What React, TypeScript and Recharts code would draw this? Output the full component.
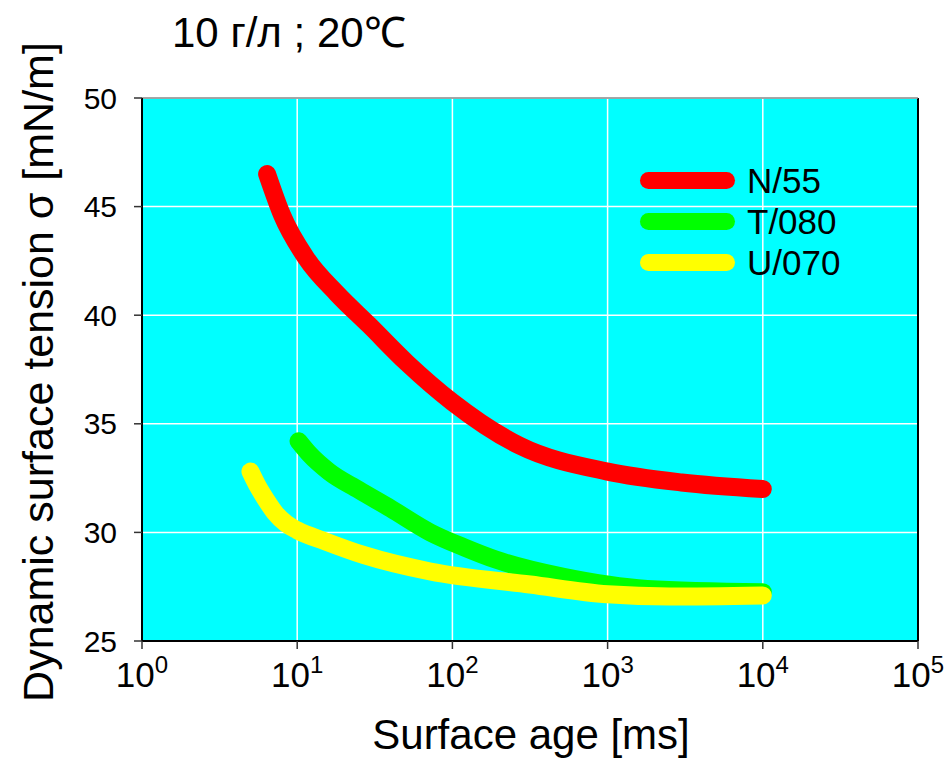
import React from "react";
import { LineChart, Line, XAxis, YAxis, CartesianGrid, ReferenceLine } from "recharts";

// surface age in ms, dynamic surface tension in mN/m
const n55Age = [6.4, 8, 11.5, 18, 29, 51, 100, 270, 1000, 3000, 10000];
const n55Sigma = [46.5, 44.6, 42.6, 41.0, 39.55, 37.8, 36.0, 34.0, 32.8, 32.3, 32.0];

const t080Age = [10.2, 12, 16, 25, 40, 72, 120, 190, 520, 1800, 10000];
const t080Sigma = [34.2, 33.6, 32.8, 31.95, 31.1, 30.0, 29.3, 28.75, 27.95, 27.4, 27.25];

const u070Age = [5.0, 5.6, 6.3, 7.2, 8.5, 10, 15, 27, 72, 316, 1000, 2500, 10000];
const u070Sigma = [32.8, 32.1, 31.5, 30.9, 30.4, 30.1, 29.6, 28.95, 28.2, 27.6, 27.15, 27.05, 27.1];

const xTicks = [1, 10, 100, 1000, 10000, 100000];
const yTicks = [25, 30, 35, 40, 45, 50];

const series = [
  { name: "N/55", color: "#ff0000", age: n55Age, sigma: n55Sigma },
  { name: "T/080", color: "#00ff00", age: t080Age, sigma: t080Sigma },
  { name: "U/070", color: "#ffff00", age: u070Age, sigma: u070Sigma },
];

const font = "'Liberation Sans', Arial, sans-serif";

function PowerTick(props: any) {
  const { x, y, payload } = props;
  const exp = Math.round(Math.log10(payload.value));
  return (
    <text x={x} y={y} dy={36} textAnchor="middle" fontFamily={font} fontSize={35} fill="#000">
      10
      <tspan dy={-14} fontSize={24}>
        {exp}
      </tspan>
    </text>
  );
}

export default function App() {
  return (
    <div style={{ position: "absolute", left: 0, top: 0, width: 947, height: 772, background: "#fff", fontFamily: font }}>
      <LineChart width={947} height={772} margin={{ top: 98, right: 29, bottom: 71, left: 82 }}>
        <CartesianGrid fill="#00ffff" fillOpacity={1} stroke="#ffffff" strokeWidth={1.5} />
        <XAxis
          type="number"
          dataKey="x"
          scale="log"
          domain={[1, 100000]}
          ticks={xTicks}
          height={60}
          tickSize={8}
          tickMargin={2}
          tick={<PowerTick />}
          axisLine={{ stroke: "#000", strokeWidth: 2 }}
          tickLine={{ stroke: "#333", strokeWidth: 1.5 }}
          allowDataOverflow
        />
        <YAxis
          type="number"
          domain={[25, 50]}
          ticks={yTicks}
          width={60}
          tickSize={8}
          tickMargin={17}
          tick={{ fontFamily: font, fontSize: 30, fill: "#000" }}
          axisLine={{ stroke: "#000", strokeWidth: 2 }}
          tickLine={{ stroke: "#333", strokeWidth: 1.5 }}
        />
        <ReferenceLine x={100000} stroke="#000" strokeWidth={2} />
        <ReferenceLine y={50} stroke="#888" strokeWidth={1.5} />
        {series.map((s) => (
          <Line
            key={s.name}
            name={s.name}
            data={s.age.map((a, i) => ({ x: a, y: s.sigma[i] }))}
            dataKey="y"
            type="monotone"
            stroke={s.color}
            strokeWidth={18}
            strokeLinecap="round"
            strokeLinejoin="round"
            dot={false}
            activeDot={false}
            isAnimationActive={false}
          />
        ))}
      </LineChart>

      <div style={{ position: "absolute", left: 172, top: 9, fontSize: 42, lineHeight: 1.15, whiteSpace: "nowrap" }}>
        10 г/л ; 20℃
      </div>

      <div
        style={{
          position: "absolute",
          left: 39,
          top: 372,
          fontSize: 43,
          lineHeight: 1.15,
          whiteSpace: "nowrap",
          transform: "translate(-50%, -50%) rotate(-90deg)",
        }}
      >
        Dynamic surface tension σ [mN/m]
      </div>

      <div
        style={{
          position: "absolute",
          left: 531,
          top: 711,
          fontSize: 42,
          lineHeight: 1.15,
          whiteSpace: "nowrap",
          transform: "translateX(-50%)",
        }}
      >
        Surface age [ms]
      </div>

      <div style={{ position: "absolute", left: 640, top: 160 }}>
        {series.map((s) => (
          <div key={s.name} style={{ display: "flex", alignItems: "center", height: 41 }}>
            <div style={{ width: 95, height: 17, borderRadius: 9, background: s.color }} />
            <span style={{ marginLeft: 12, fontSize: 35, lineHeight: "41px" }}>{s.name}</span>
          </div>
        ))}
      </div>
    </div>
  );
}
